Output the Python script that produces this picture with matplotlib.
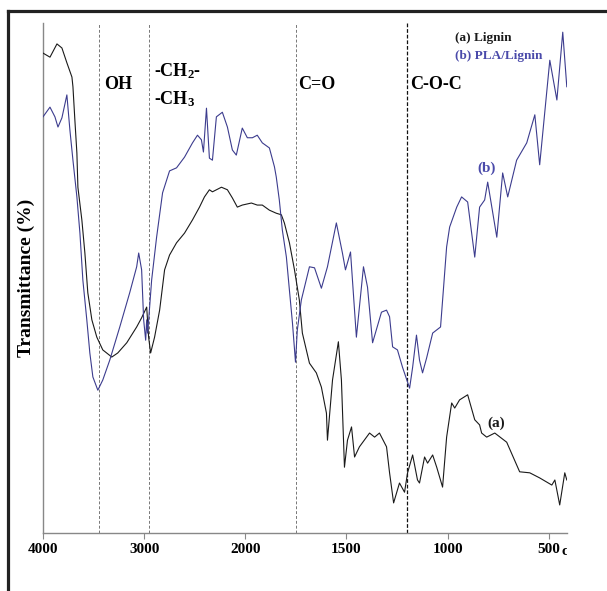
import numpy as np
import matplotlib
matplotlib.use('Agg')
import matplotlib.pyplot as plt
from matplotlib.lines import Line2D
from matplotlib.patches import Rectangle

plt.rcParams['font.family'] = ['Liberation Serif', 'DejaVu Serif']
plt.rcParams['mathtext.fontset'] = 'custom'
plt.rcParams['mathtext.rm'] = 'Liberation Serif:bold'
plt.rcParams['mathtext.default'] = 'rm'

# (a) Lignin
wn_a = [4000, 3931, 3862, 3813, 3764, 3714, 3704, 3685, 3665, 3655, 3616, 3586, 3557, 3517,
        3468, 3409, 3320, 3261, 3172, 3074, 3025, 2975, 2956, 2936, 2897, 2847, 2798, 2749,
        2680, 2601, 2522, 2453, 2404, 2355, 2325, 2236, 2177, 2128, 2079, 2030, 1970, 1941,
        1916, 1881, 1847, 1822, 1807, 1782, 1757, 1733, 1718, 1683, 1649, 1624, 1599, 1594,
        1569, 1540, 1525, 1510, 1495, 1475, 1460, 1436, 1386, 1361, 1337, 1302, 1287, 1267,
        1238, 1213, 1198, 1173, 1149, 1139, 1114, 1099, 1074, 1054, 1025, 1005, 980, 965,
        941, 901, 866, 842, 832, 807, 767, 708, 644, 594, 545, 485, 470, 446, 421, 411]
t_a = [94.1, 93.3, 95.9, 95.1, 92.2, 89.4, 87.5, 81.0, 74.5, 67.8, 61.4, 54.9, 47.1, 41.8,
       38.4, 35.9, 34.5, 35.3, 37.3, 40.4, 42.2, 44.3, 38.4, 35.3, 38.4, 43.7, 51.6, 54.5,
       56.9, 58.8, 61.4, 63.9, 65.9, 67.3, 66.9, 67.8, 67.3, 65.7, 63.9, 64.3, 64.7, 64.3,
       64.3, 63.3, 62.7, 62.4, 60.8, 56.9, 51.6, 45.7, 39.2, 33.3, 31.4, 28.6, 23.5, 18.2,
       30.0, 37.5, 30.0, 12.9, 18.2, 20.8, 14.9, 16.9, 19.6, 18.8, 19.6, 16.9, 11.8, 5.9,
       9.8, 8.0, 11.8, 15.3, 10.4, 9.8, 14.9, 13.7, 15.3, 12.9, 9.0, 18.8, 25.5, 24.5,
       26.1, 27.1, 22.2, 21.2, 19.6, 18.8, 19.6, 17.8, 12.0, 11.8, 10.8, 9.4, 10.4, 5.5, 11.8, 10.4]

# (b) PLA/Lignin
wn_b = [4000, 3931, 3882, 3852, 3813, 3764, 3734, 3704, 3665, 3635, 3606, 3567, 3537, 3507,
        3458, 3409, 3340, 3241, 3143, 3074, 3054, 3025, 3005, 2985, 2975, 2966, 2946, 2926,
        2877, 2818, 2749, 2680, 2601, 2522, 2473, 2434, 2414, 2384, 2355, 2325, 2286, 2227,
        2177, 2128, 2089, 2030, 1990, 1965, 1941, 1916, 1881, 1856, 1847, 1832, 1817, 1797,
        1782, 1767, 1752, 1743, 1723, 1683, 1658, 1624, 1594, 1550, 1520, 1505, 1480, 1451,
        1416, 1396, 1371, 1327, 1302, 1287, 1272, 1248, 1223, 1188, 1173, 1154, 1139, 1124,
        1104, 1074, 1035, 1020, 1005, 990, 955, 931, 901, 866, 842, 817, 802, 757, 728, 703,
        659, 609, 569, 545, 495, 460, 431, 411]
t_b = [81.6, 83.5, 81.6, 79.6, 81.4, 85.9, 79.0, 73.1, 65.9, 58.8, 49.6, 41.8, 35.3, 30.6,
       28.0, 30.0, 33.9, 40.4, 47.1, 52.2, 54.9, 51.6, 41.8, 37.8, 41.8, 39.2, 44.3, 49.6,
       58.0, 66.7, 71.0, 71.6, 73.7, 76.5, 78.0, 77.1, 74.7, 83.3, 73.5, 73.1, 81.6, 82.5,
       79.6, 75.1, 74.1, 79.4, 77.5, 77.5, 78.0, 76.5, 75.5, 71.8, 69.8, 65.3, 59.4, 54.1,
       47.6, 41.2, 33.5, 39.8, 45.7, 52.2, 52.0, 48.0, 52.2, 60.8, 54.9, 51.6, 55.1, 38.4,
       52.2, 48.2, 37.3, 43.3, 43.7, 42.4, 36.5, 35.9, 32.5, 28.4, 32.5, 38.8, 33.9, 31.4,
       34.3, 39.2, 40.4, 48.2, 56.1, 60.0, 63.9, 65.9, 64.9, 54.1, 63.9, 65.3, 68.8, 58.0, 70.6, 65.9,
       73.1, 76.5, 82.0, 72.2, 92.7, 84.9, 98.2, 87.5]

band_pos = [3450, 2950, 1750, 1200]
band_names = ['OH', '-CH$_2$-\n-CH$_3$', 'C=O', 'C-O-C']
xticks = [4000, 3000, 2000, 1500, 1000, 500]
xticklabels = ['4000', '3000', '2000', '1500', '1000', '500']

col_a = '#1a1a1a'
col_b = '#3c3c8e'
col_b_txt = '#4a4aaa'


# scale break at 2000: the low wavenumber side is stretched 2x
def fwd(x):
    x = np.asarray(x, dtype=float)
    return np.where(x >= 2000, 2000 + (x - 2000) * 0.5, x)


def inv(u):
    u = np.asarray(u, dtype=float)
    return np.where(u >= 2000, 2000 + (u - 2000) * 2.0, u)


fig = plt.figure(figsize=(6.07, 5.91), dpi=100)
ax = fig.add_axes([43/607, 58/591, 524/607, 510/591])
ax.set_xscale('function', functions=(fwd, inv))

ax.plot(wn_a, t_a, color=col_a, lw=0.8, zorder=3)
ax.plot(wn_b, t_b, color=col_b, lw=0.8, zorder=3)

for i, p in enumerate(band_pos):
    if i == 3:
        ax.axvline(p, color='#111111', lw=0.9, ls=(0, (3, 1.5)), zorder=2)
    else:
        ax.axvline(p, color='#777777', lw=0.7, ls=(0, (3, 2)), zorder=2)

ax.set_xlim(4000, 410)
ax.set_ylim(0, 100)
ax.set_xticks(xticks)
ax.set_xticklabels(xticklabels, fontweight='bold', fontsize=11)
ax.set_yticks([])
ax.tick_params(axis='x', direction='out', length=4, width=0.8, color='#888888', pad=3)
for s in ['top', 'right']:
    ax.spines[s].set_visible(False)
for s in ['left', 'bottom']:
    ax.spines[s].set_color('#888888')
    ax.spines[s].set_linewidth(1.0)

ax.set_ylabel('Transmittance (%)', fontsize=14, fontweight='bold', labelpad=6)

# band labels
ax.text(3400, 88, band_names[0], fontsize=13, fontweight='bold', va='center')
ax.text(2900, 90.5, '-CH$_2$-', fontsize=13, fontweight='bold', va='center')
ax.text(2900, 85, '-CH$_3$', fontsize=13, fontweight='bold', va='center')
ax.text(1740, 88, band_names[2], fontsize=13, fontweight='bold', va='center')
ax.text(1185, 88, band_names[3], fontsize=13, fontweight='bold', va='center')

# legend-like labels
ax.text(965, 97, '(a) Lignin', fontsize=9.5, fontweight='bold', color=col_a, va='center')
ax.text(962, 93.6, '(b) PLA/Lignin', fontsize=9.5, fontweight='bold', color=col_b_txt, va='center')
ax.text(810, 71.5, '(b)', fontsize=11, fontweight='bold', color=col_b_txt, ha='center', va='center')
ax.text(760, 21.5, '(a)', fontsize=11, fontweight='bold', color=col_a, ha='center', va='center')

# truncated unit after the last tick label
unit = ax.annotate('cm$^{-1}$', xy=(500, 0), xycoords=('data', 'axes fraction'),
                   xytext=(9, -7), textcoords='offset points', fontsize=11, fontweight='bold',
                   ha='left', va='top', annotation_clip=False)
clip = Rectangle((0, 0), 567/607, 1, transform=fig.transFigure, facecolor='none')
unit.set_clip_path(clip)

# outer frame (only top and left visible)
fig.add_artist(Line2D([8/607, 1], [1 - 11/591, 1 - 11/591], transform=fig.transFigure,
                      color='#222222', lw=2.3))
fig.add_artist(Line2D([8/607, 8/607], [0, 1 - 11/591], transform=fig.transFigure,
                      color='#222222', lw=2.3))

plt.savefig('out.png', dpi=100)
